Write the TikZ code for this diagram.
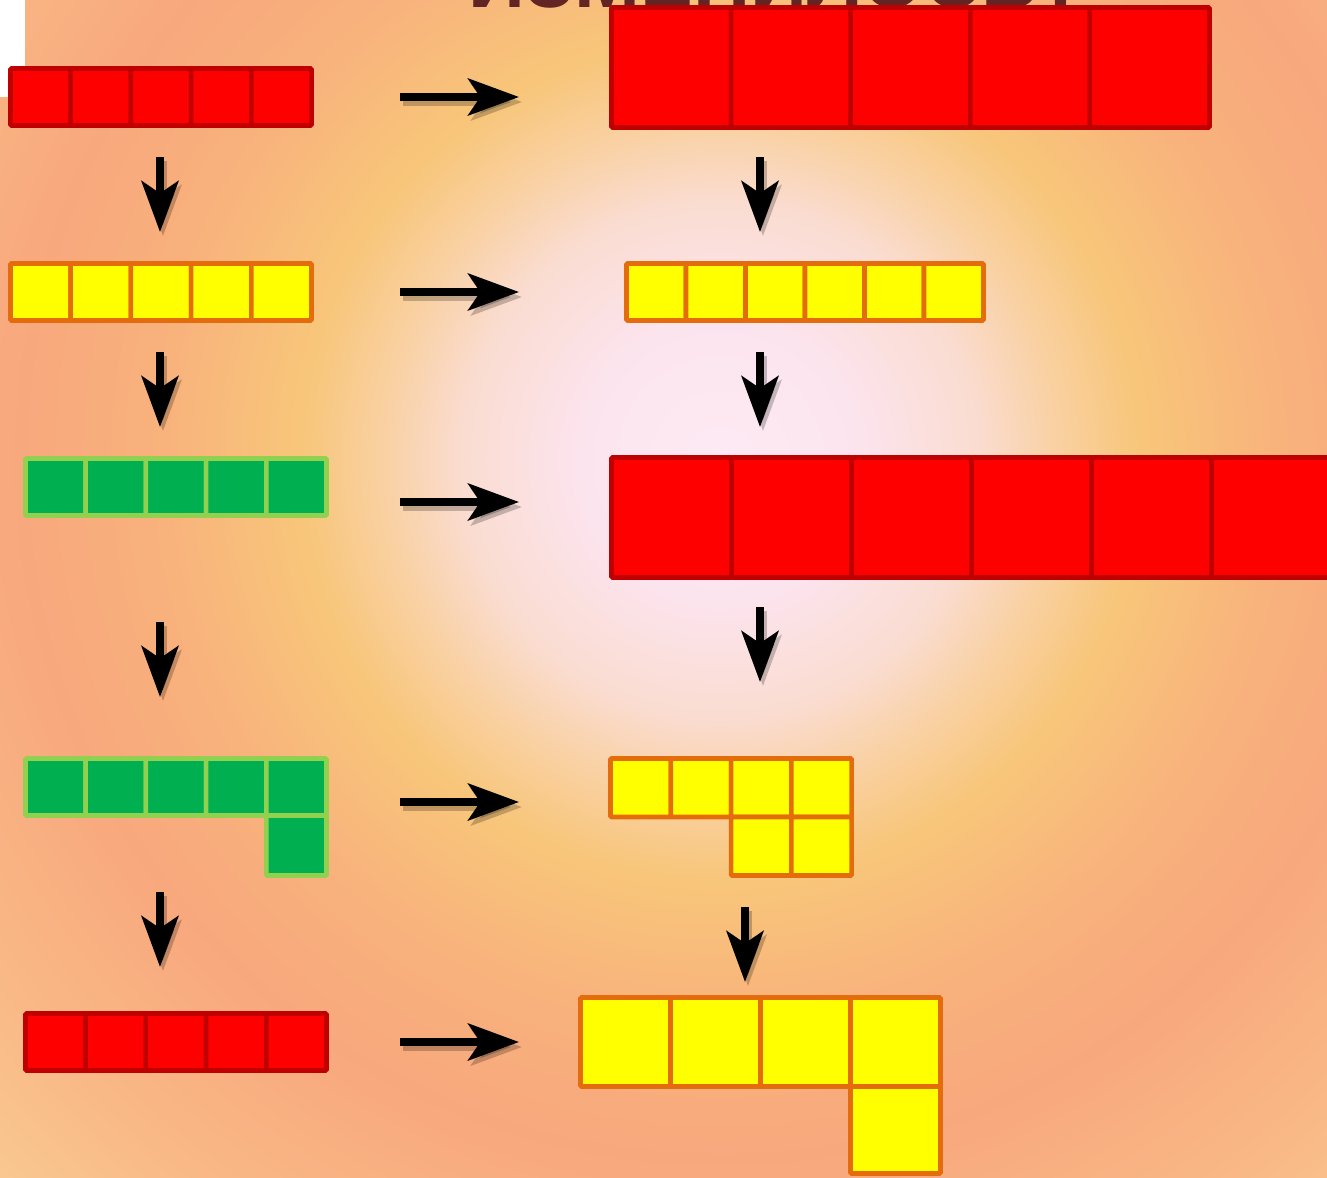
\documentclass[tikz,border=0pt]{standalone}
\usepackage{fontspec}
\setmainfont{Liberation Sans}
\usetikzlibrary{arrows.meta}

\definecolor{redfill}{HTML}{FF0000}
\definecolor{redline}{HTML}{C00000}
\definecolor{yelfill}{HTML}{FFFF00}
\definecolor{yelline}{HTML}{E46C0A}
\definecolor{grnfill}{HTML}{00B050}
\definecolor{grnline}{HTML}{92D050}
\definecolor{titlecol}{HTML}{632523}
\definecolor{bgA}{HTML}{FDEAF4}
\definecolor{bgB}{HTML}{FCE4EE}
\definecolor{bgC}{HTML}{FADCD0}
\definecolor{bgD}{HTML}{F9D0A0}
\definecolor{bgE}{HTML}{F8C67A}
\definecolor{bgF}{HTML}{F8B27C}
\definecolor{bgG}{HTML}{F8A87D}
\definecolor{bgH}{HTML}{F9B886}
\definecolor{bgI}{HTML}{F9C890}

\pgfdeclareradialshading{glow}{\pgfpoint{0bp}{0bp}}{color(0bp)=(bgA); color(79bp)=(bgB); color(147bp)=(bgC); color(193bp)=(bgD); color(238bp)=(bgE); color(318bp)=(bgF); color(397bp)=(bgG); color(499bp)=(bgH); color(578bp)=(bgI)}

\begin{document}
\begin{tikzpicture}[x=0.02cm,y=-0.02cm,
  cell/.style={line width=2.6pt,rounded corners=0.6pt},
  redcell/.style={cell,fill=redfill,draw=redline},
  yelcell/.style={cell,fill=yelfill,draw=yelline},
  grncell/.style={cell,fill=grnfill,draw=grnline},
  bigarrow/.style={line width=4.3pt,-{Stealth[length=29pt,width=21pt,inset=7pt]}},
  arrowshadow/.style={bigarrow,draw=black,fill=black,opacity=.22}]
\useasboundingbox (0,0) rectangle (1327,1177);
\begin{scope}
\clip (0,0) rectangle (1327,1177);
% background
\node[inner sep=0pt] (glow) at (720,460) {\pgfuseshading{glow}};
\fill[white] (0,0) rectangle (25,97);
\node[anchor=base west,inner sep=0pt,text=titlecol,font=\fontsize{45}{50}\selectfont\bfseries] (title) at (468,7) {ИЗМЕНИЛОСЬ?};

% left column
\foreach \i in {0,...,4}{
  \draw[redcell] (10.5+60.2*\i,68.5) rectangle +(60.2,57);
  \draw[yelcell] (10.5+60.2*\i,263.5) rectangle +(60.2,57);
  \draw[grncell] (25.5+60.2*\i,458.5) rectangle +(60.2,57);
  \draw[grncell] (25.5+60.2*\i,758.5) rectangle +(60.2,57);
  \draw[redcell] (25.5+60.2*\i,1013.5) rectangle +(60.2,57);
}
\draw[grncell] (266.3,815.5) rectangle +(60.2,60);

% right column
\foreach \i in {0,...,4}
  \draw[redcell] (611.5+119.6*\i,7.5) rectangle +(119.6,120);
\foreach \i in {0,...,5}
  \draw[yelcell] (626.5+59.5*\i,263.5) rectangle +(59.5,57);
\foreach \i in {0,...,5}
  \draw[redcell] (611.5+120*\i,457.5) rectangle +(120,120);
\foreach \i in {0,...,3}
  \draw[yelcell] (610.5+60.3*\i,758.5) rectangle +(60.3,58.5);
\foreach \i in {2,3}
  \draw[yelcell] (610.5+60.3*\i,817) rectangle +(60.3,58.5);
\foreach \i in {0,...,3}
  \draw[yelcell] (580.5+90*\i,997.5) rectangle +(90,89);
\draw[yelcell] (850.5,1086.5) rectangle +(90,87);

% arrows to the right
\foreach \y [count=\k] in {97,292,502,802,1042}{
  \coordinate (h\k a) at (400,\y);
  \coordinate (h\k b) at (519,\y);
  \draw[arrowshadow] ([shift={(3,5)}]h\k a) -- ([shift={(3,5)}]h\k b);
  \draw[bigarrow] (h\k a) -- (h\k b);
}
% arrows downwards
\foreach \x/\ya/\yb [count=\k] in {160/157/232,160/352/427,160/622/697,160/892/967,
    760/157/232,760/352/427,760/607/682,745/907/982}{
  \coordinate (v\k a) at (\x,\ya);
  \coordinate (v\k b) at (\x,\yb);
  \draw[arrowshadow] ([shift={(3,4)}]v\k a) -- ([shift={(3,4)}]v\k b);
  \draw[bigarrow] (v\k a) -- (v\k b);
}
\end{scope}
\end{tikzpicture}
\end{document}
